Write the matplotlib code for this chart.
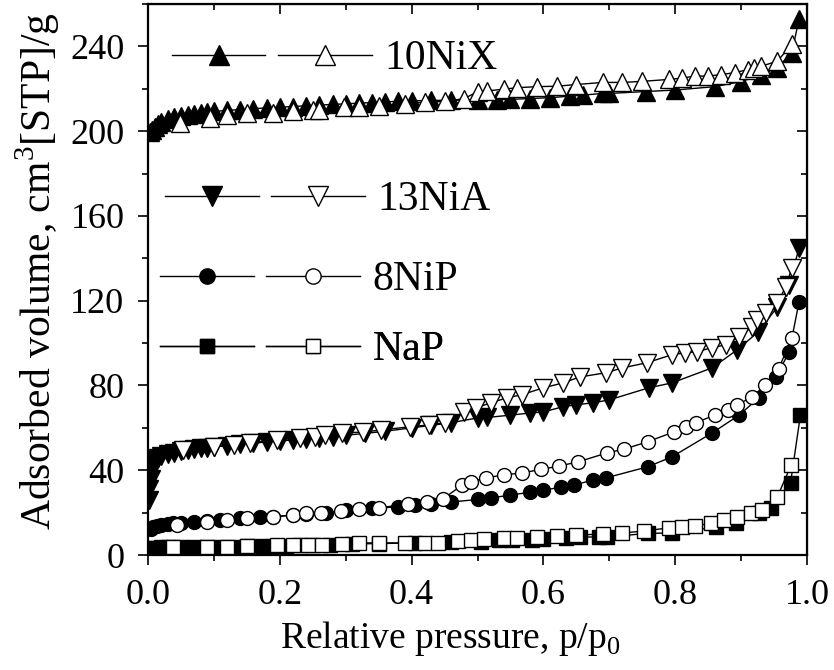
import numpy as np
import matplotlib
matplotlib.use("Agg")
import matplotlib.pyplot as plt
from matplotlib.lines import Line2D
from matplotlib.legend_handler import HandlerTuple
from matplotlib.ticker import MultipleLocator

plt.rcParams['font.family'] = ['Liberation Serif', 'DejaVu Serif']
plt.rcParams['mathtext.fontset'] = 'custom'
plt.rcParams['mathtext.rm'] = 'Liberation Serif'

# 10NiX
nix_ads_p = [0.003, 0.006, 0.01, 0.015, 0.02, 0.03, 0.04, 0.05, 0.06, 0.07, 0.08, 0.09, 0.10,
             0.12, 0.14, 0.16, 0.18, 0.20, 0.22, 0.24, 0.26, 0.28, 0.30, 0.32, 0.34, 0.36,
             0.38, 0.40, 0.43, 0.46, 0.50, 0.53, 0.55, 0.58, 0.61, 0.64, 0.66, 0.69, 0.70,
             0.755, 0.80, 0.86, 0.90, 0.93, 0.955, 0.977, 0.988]
nix_ads_v = [199.5, 200.5, 202, 203.5, 204.5, 205.5, 206.5, 207.2, 207.8, 208.3, 208.7, 209, 209.3,
             209.8, 210.2, 210.6, 211, 211.3, 211.6, 212, 212.3, 212.6, 212.9, 213.2, 213.5, 213.8,
             214.1, 214.3, 214.5, 214.6, 214.7, 214.8, 215, 215.4, 215.8, 216.5, 217, 217.8, 217.8,
             218.7, 219.4, 221, 223.4, 226.5, 230, 237, 253]
nix_des_p = [0.048, 0.094, 0.12, 0.15, 0.19, 0.22, 0.25, 0.26, 0.297, 0.32, 0.35, 0.39, 0.42,
             0.45, 0.48, 0.50, 0.515, 0.54, 0.56, 0.59, 0.62, 0.65, 0.69, 0.72, 0.75, 0.79,
             0.81, 0.83, 0.85, 0.87, 0.89, 0.91, 0.92, 0.93, 0.955, 0.977]
nix_des_v = [204, 206.4, 207.8, 208.8, 208.8, 209.3, 210, 210.2, 211.4, 211.4, 212, 213, 213.7,
             214, 215.4, 218.6, 219, 219.8, 220.5, 221, 221.2, 222, 223, 223, 223.5, 224.4,
             225, 226, 226, 226.7, 227.6, 229, 230, 230.6, 233, 241]

# 13NiA
nia_ads_p = [0.001, 0.002, 0.004, 0.006, 0.008, 0.01, 0.015, 0.02, 0.03, 0.04, 0.05, 0.06, 0.07,
             0.08, 0.09, 0.10, 0.12, 0.14, 0.16, 0.18, 0.20, 0.22, 0.24, 0.26, 0.28, 0.30, 0.33,
             0.36, 0.40, 0.43, 0.46, 0.50, 0.515, 0.55, 0.58, 0.60, 0.63, 0.65, 0.675, 0.70,
             0.76, 0.795, 0.856, 0.894, 0.925, 0.955, 0.973, 0.988]
nia_ads_v = [26, 31, 36, 40, 43, 45, 46, 46.8, 47.5, 48.2, 49, 49.5, 50,
             50.3, 50.7, 51, 51.6, 52.2, 52.8, 53.3, 53.8, 54.3, 54.8, 55.3, 55.8, 56.5, 57.4,
             58.4, 60, 61.2, 62.4, 64.7, 64.9, 66, 67, 67.5, 70, 70.9, 71.8, 73.2,
             78.9, 81.2, 88.3, 96.8, 105, 117, 127.5, 145]
nia_des_p = [0.053, 0.10, 0.13, 0.155, 0.195, 0.23, 0.253, 0.268, 0.295, 0.326, 0.354, 0.397,
             0.427, 0.45, 0.48, 0.498, 0.52, 0.545, 0.567, 0.60, 0.63, 0.655, 0.695, 0.72,
             0.757, 0.795, 0.815, 0.833, 0.856, 0.877, 0.897, 0.917, 0.924, 0.938, 0.955,
             0.968, 0.977]
nia_des_v = [49.6, 51, 52, 52.9, 54.3, 55.3, 55.7, 56.7, 57.6, 58, 59, 60.5,
             61.4, 62.4, 67.6, 69.4, 71.8, 74.2, 75.6, 78.9, 81.2, 84, 86, 88.3,
             90.7, 94.5, 95.4, 96, 97.8, 99.2, 103, 107.7, 111, 114, 119,
             126.6, 135.6]

# 8NiP
nip_ads_p = [0.005, 0.008, 0.013, 0.02, 0.03, 0.038, 0.05, 0.07, 0.09, 0.11, 0.14, 0.17, 0.19,
             0.22, 0.24, 0.27, 0.30, 0.34, 0.38, 0.405, 0.43, 0.46, 0.50, 0.52, 0.55, 0.58,
             0.60, 0.627, 0.647, 0.675, 0.695, 0.758, 0.795, 0.856, 0.897, 0.927, 0.953,
             0.973, 0.988]
nip_ads_v = [12.3, 13, 13.5, 14, 14.5, 15, 15.3, 15.7, 16, 16.6, 17.5, 17.8, 18,
             18.8, 19.4, 19.8, 21.3, 22, 22.7, 23.6, 24, 25, 26.2, 26.9, 28.3, 29.6,
             30.5, 32.1, 33, 35.4, 36.4, 41.6, 46.3, 57.6, 66, 74.2, 84,
             95.9, 119.5]
nip_des_p = [0.044, 0.09, 0.12, 0.15, 0.19, 0.22, 0.24, 0.263, 0.293, 0.32, 0.35, 0.394, 0.424,
             0.447, 0.477, 0.49, 0.513, 0.54, 0.567, 0.597, 0.624, 0.652, 0.697, 0.723, 0.758,
             0.798, 0.816, 0.831, 0.86, 0.88, 0.894, 0.917, 0.937, 0.957, 0.977]
nip_des_v = [14.2, 15.6, 16.5, 17.5, 18, 18.9, 19.8, 19.8, 20.8, 21.7, 22.2, 24.1, 25,
             26.4, 33, 34.5, 36.4, 37.8, 38.7, 40.4, 42, 43.9, 48.2, 50, 53.4,
             58.1, 60.5, 62.4, 66, 68.5, 70.9, 74.6, 80.3, 87.9, 102.5]

# NaP
nap_ads_p = [0.003, 0.01, 0.02, 0.03, 0.05, 0.07, 0.09, 0.11, 0.13, 0.15, 0.17, 0.19, 0.21,
             0.23, 0.25, 0.276, 0.31, 0.35, 0.405, 0.46, 0.505, 0.533, 0.553, 0.583, 0.60,
             0.635, 0.655, 0.685, 0.697, 0.758, 0.795, 0.862, 0.892, 0.927, 0.945, 0.975, 0.99]
nap_ads_v = [3.2, 3.5, 3.6, 3.7, 3.8, 3.8, 3.9, 4, 4, 4.1, 4.2, 4.3, 4.4,
             4.5, 4.6, 4.7, 5.2, 5.4, 5.7, 6.1, 6.3, 7, 7, 7.3, 7.6,
             8.2, 8.5, 8.5, 8.5, 10.2, 10.4, 13.2, 15, 19.8, 22.2, 34, 66]
nap_des_p = [0.038, 0.09, 0.12, 0.15, 0.195, 0.22, 0.243, 0.264, 0.294, 0.32, 0.35, 0.39, 0.42,
             0.44, 0.47, 0.49, 0.51, 0.54, 0.56, 0.59, 0.62, 0.65, 0.69, 0.72, 0.753, 0.79,
             0.81, 0.83, 0.855, 0.874, 0.894, 0.915, 0.932, 0.955, 0.976]
nap_des_v = [3.8, 3.9, 4, 4.2, 4.7, 4.7, 4.7, 4.7, 5.2, 5.7, 5.7, 5.7, 5.7,
             5.7, 6.6, 7, 7.4, 7.8, 8.1, 8.5, 9, 9.4, 9.9, 10.4, 11.3, 12.8,
             13.2, 13.7, 15, 16.5, 18, 19.8, 21.3, 27.4, 42.5]

samples = ['10NiX', '13NiA', '8NiP', 'NaP']
markers = ['^', 'v', 'o', 's']
msizes = [13, 13, 10, 9.5]
ads_p = [nix_ads_p, nia_ads_p, nip_ads_p, nap_ads_p]
ads_v = [nix_ads_v, nia_ads_v, nip_ads_v, nap_ads_v]
des_p = [nix_des_p, nia_des_p, nip_des_p, nap_des_p]
des_v = [nix_des_v, nia_des_v, nip_des_v, nap_des_v]

fig = plt.figure(figsize=(8.34, 6.7), dpi=100)
ax = fig.add_axes([148 / 834, 1 - 555 / 670, 659 / 834, 551 / 670])

for i in range(len(samples)):
    ax.plot(ads_p[i], ads_v[i], color='black', lw=1, marker=markers[i], ms=msizes[i],
            mfc='black', mec='black', mew=1, zorder=3)
    ax.plot(des_p[i], des_v[i], color='black', lw=1, marker=markers[i], ms=msizes[i],
            mfc='white', mec='black', mew=1, zorder=4)

ax.set_xlim(0, 1.0)
ax.set_ylim(0, 260)
ax.xaxis.set_major_locator(MultipleLocator(0.2))
ax.xaxis.set_minor_locator(MultipleLocator(0.1))
ax.yaxis.set_major_locator(MultipleLocator(40))
ax.yaxis.set_minor_locator(MultipleLocator(20))
ax.set_xticklabels([f"{t:.1f}" for t in ax.get_xticks()])
ax.tick_params(which='both', direction='out', width=1.2, labelsize=26)
ax.tick_params(which='major', length=7)
ax.tick_params(which='minor', length=4.5)
ax.tick_params(axis='x', which='major', pad=10)
ax.tick_params(axis='y', which='major', pad=10)
for s in ax.spines.values():
    s.set_linewidth(1.6)

top = ax.secondary_xaxis('top')
top.xaxis.set_major_locator(MultipleLocator(0.2))
top.xaxis.set_minor_locator(MultipleLocator(0.1))
top.tick_params(which='both', direction='in', labeltop=False, width=1.2)
top.tick_params(which='major', length=7)
top.tick_params(which='minor', length=4.5)
right = ax.secondary_yaxis('right')
right.yaxis.set_major_locator(MultipleLocator(40))
right.yaxis.set_minor_locator(MultipleLocator(20))
right.tick_params(which='both', direction='in', labelright=False, width=1.2)
right.tick_params(which='major', length=7)
right.tick_params(which='minor', length=4.5)

ax.set_xlabel('Relative pressure, p/p$_\\mathregular{0}$', fontsize=27)
ax.xaxis.set_label_coords(0.458, -0.152)
ax.xaxis.label.set_verticalalignment('center')
ax.set_ylabel('Adsorbed volume, cm$^\\mathregular{3}$[STP]/g', fontsize=30)
ax.yaxis.set_label_coords(-0.168, 0.515)
ax.yaxis.label.set_verticalalignment('center')

# one legend row per sample, placed like the original text boxes
leg_y = [0.9, 0.644, 0.499, 0.372]
leg_x = [0.036, 0.026, 0.018, 0.018]
for i in range(len(samples)):
    h1 = Line2D([], [], color='black', lw=1, marker=markers[i], ms=msizes[i] + 1,
                mfc='black', mec='black')
    h2 = Line2D([], [], color='black', lw=1, marker=markers[i], ms=msizes[i] + 1,
                mfc='white', mec='black')
    leg = ax.legend([(h1, h2)], [samples[i]], handler_map={tuple: HandlerTuple(ndivide=None, pad=0.3)},
                    loc='center left', bbox_to_anchor=(leg_x[i], leg_y[i]), frameon=False,
                    fontsize=30, handlelength=4.8, handletextpad=0.3, borderpad=0,
                    borderaxespad=0, numpoints=1)
    ax.add_artist(leg)

fig.savefig('out.png', dpi=100)
